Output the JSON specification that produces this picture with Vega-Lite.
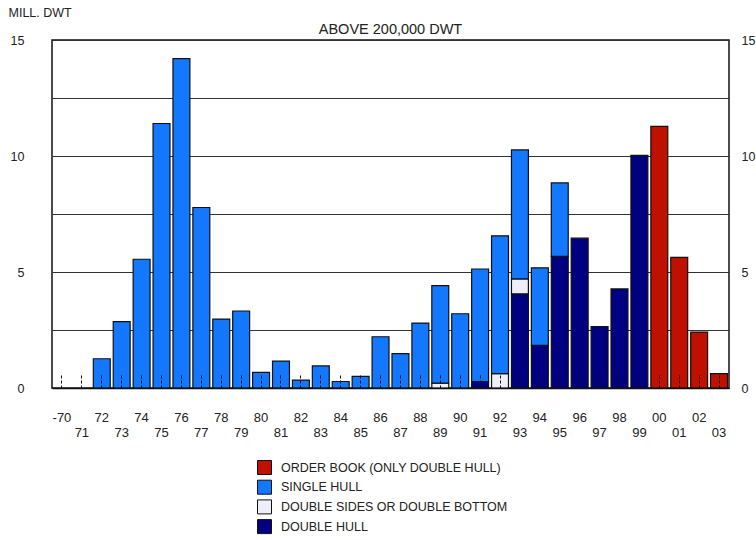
{
  "$schema": "https://vega.github.io/schema/vega-lite/v6.json",
  "width": 677,
  "height": 348,
  "autosize": {"type": "none"},
  "padding": {"left": 52, "top": 40, "right": 27, "bottom": 152},
  "background": "white",
  "config": {
    "font": "Liberation Sans",
    "view": {"stroke": "#111", "strokeWidth": 1.5}
  },
  "title": {
    "text": "ABOVE 200,000 DWT",
    "anchor": "middle",
    "frame": "group",
    "fontSize": 14.5,
    "fontWeight": "normal",
    "color": "#222",
    "baseline": "alphabetic",
    "offset": 4.5,
    "dy": 47
  },
  "data": {
    "values": [
      {"year": 1972, "type": "SINGLE HULL", "dwt": 1.26},
      {"year": 1973, "type": "SINGLE HULL", "dwt": 2.86},
      {"year": 1974, "type": "SINGLE HULL", "dwt": 5.55},
      {"year": 1975, "type": "SINGLE HULL", "dwt": 11.4},
      {"year": 1976, "type": "SINGLE HULL", "dwt": 14.2},
      {"year": 1977, "type": "SINGLE HULL", "dwt": 7.78},
      {"year": 1978, "type": "SINGLE HULL", "dwt": 2.97},
      {"year": 1979, "type": "SINGLE HULL", "dwt": 3.32},
      {"year": 1980, "type": "SINGLE HULL", "dwt": 0.67},
      {"year": 1981, "type": "SINGLE HULL", "dwt": 1.16},
      {"year": 1982, "type": "SINGLE HULL", "dwt": 0.34},
      {"year": 1983, "type": "SINGLE HULL", "dwt": 0.95},
      {"year": 1984, "type": "SINGLE HULL", "dwt": 0.28},
      {"year": 1985, "type": "SINGLE HULL", "dwt": 0.5},
      {"year": 1986, "type": "SINGLE HULL", "dwt": 2.21},
      {"year": 1987, "type": "SINGLE HULL", "dwt": 1.48},
      {"year": 1988, "type": "SINGLE HULL", "dwt": 2.8},
      {"year": 1989, "type": "DOUBLE SIDES OR DOUBLE BOTTOM", "dwt": 0.21},
      {"year": 1989, "type": "SINGLE HULL", "dwt": 4.2},
      {"year": 1990, "type": "SINGLE HULL", "dwt": 3.2},
      {"year": 1991, "type": "DOUBLE HULL", "dwt": 0.28},
      {"year": 1991, "type": "SINGLE HULL", "dwt": 4.85},
      {"year": 1992, "type": "DOUBLE SIDES OR DOUBLE BOTTOM", "dwt": 0.62},
      {"year": 1992, "type": "SINGLE HULL", "dwt": 5.94},
      {"year": 1993, "type": "DOUBLE HULL", "dwt": 4.06},
      {"year": 1993, "type": "DOUBLE SIDES OR DOUBLE BOTTOM", "dwt": 0.64},
      {"year": 1993, "type": "SINGLE HULL", "dwt": 5.56},
      {"year": 1994, "type": "DOUBLE HULL", "dwt": 1.84},
      {"year": 1994, "type": "SINGLE HULL", "dwt": 3.34},
      {"year": 1995, "type": "DOUBLE HULL", "dwt": 5.67},
      {"year": 1995, "type": "SINGLE HULL", "dwt": 3.17},
      {"year": 1996, "type": "DOUBLE HULL", "dwt": 6.46},
      {"year": 1997, "type": "DOUBLE HULL", "dwt": 2.65},
      {"year": 1998, "type": "DOUBLE HULL", "dwt": 4.27},
      {"year": 1999, "type": "DOUBLE HULL", "dwt": 10.03},
      {"year": 2000, "type": "ORDER BOOK (ONLY DOUBLE HULL)", "dwt": 11.28},
      {"year": 2001, "type": "ORDER BOOK (ONLY DOUBLE HULL)", "dwt": 5.63},
      {"year": 2002, "type": "ORDER BOOK (ONLY DOUBLE HULL)", "dwt": 2.41},
      {"year": 2003, "type": "ORDER BOOK (ONLY DOUBLE HULL)", "dwt": 0.62}
    ]
  },
  "layer": [
    {
      "mark": {"type": "bar", "stroke": "#111", "strokeWidth": 1.2},
      "encoding": {
        "x": {
          "field": "year",
          "type": "ordinal",
          "scale": {
            "domain": [1970, 1971, 1972, 1973, 1974, 1975, 1976, 1977, 1978, 1979, 1980, 1981, 1982, 1983, 1984, 1985, 1986, 1987, 1988, 1989, 1990, 1991, 1992, 1993, 1994, 1995, 1996, 1997, 1998, 1999, 2000, 2001, 2002, 2003],
            "paddingInner": 0.15,
            "paddingOuter": 0.075
          },
          "axis": {
            "title": null,
            "labelExpr": "datum.value == 1970 ? '-70' : substring(toString(datum.value), 2)",
            "labelAngle": 0,
            "labelFontSize": 13,
            "labelColor": "#222",
            "labelBaseline": "top",
            "tickSize": -13,
            "tickDash": [3, 2],
            "tickColor": "#111",
            "tickWidth": 1,
            "domainColor": "#111",
            "domainWidth": 1.5,
            "zindex": 1,
            "labelPadding": {"condition": {"test": "datum.value % 2 == 1", "value": 51}, "value": 36}
          }
        },
        "y": {
          "field": "dwt",
          "type": "quantitative",
          "stack": "zero",
          "scale": {"domain": [0, 15], "nice": false},
          "axis": {
            "values": [0, 2.5, 5, 7.5, 10, 12.5, 15],
            "labelExpr": "datum.value % 5 == 0 ? toString(datum.value) : ''",
            "grid": true,
            "gridColor": "#333",
            "gridWidth": 1.2,
            "ticks": false,
            "domain": false,
            "labelPadding": 28,
            "labelFontSize": 12.5,
            "labelColor": "#222",
            "title": "MILL. DWT",
            "titleAngle": 0,
            "titleAlign": "left",
            "titleBaseline": "top",
            "titleX": -44,
            "titleY": -34,
            "titleFontSize": 12.5,
            "titleFontWeight": "normal",
            "titleColor": "#222"
          }
        },
        "color": {
          "field": "type",
          "type": "nominal",
          "scale": {
            "domain": ["ORDER BOOK (ONLY DOUBLE HULL)", "SINGLE HULL", "DOUBLE SIDES OR DOUBLE BOTTOM", "DOUBLE HULL"],
            "range": ["#C01000", "#1478FF", "#EEEEF8", "#000080"]
          },
          "legend": {
            "title": null,
            "orient": "none",
            "legendX": 205,
            "legendY": 420,
            "padding": 0,
            "symbolType": "square",
            "symbolSize": 196,
            "symbolStrokeColor": "#111",
            "symbolStrokeWidth": 1,
            "symbolOpacity": 1,
            "labelFontSize": 12.5,
            "labelColor": "#222",
            "labelOffset": 9,
            "labelLimit": 400,
            "rowPadding": 0.7
          }
        },
        "order": {"field": "type", "sort": "ascending"}
      }
    },
    {
      "mark": {"type": "bar", "opacity": 0},
      "encoding": {
        "x": {"field": "year", "type": "ordinal"},
        "y": {
          "field": "dwt",
          "type": "quantitative",
          "stack": null,
          "axis": {
            "orient": "right",
            "values": [0, 5, 10, 15],
            "format": "d",
            "grid": false,
            "ticks": false,
            "domain": false,
            "labelPadding": 12,
            "labelFontSize": 12.5,
            "labelColor": "#222",
            "title": null
          }
        }
      }
    }
  ],
  "resolve": {"axis": {"y": "independent"}}
}
